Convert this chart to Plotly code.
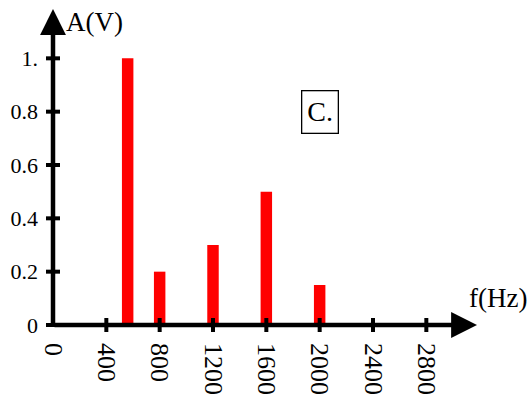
import plotly.graph_objects as go

# Spectrum lines: frequency (Hz) and amplitude (V)
freqs = [560, 800, 1200, 1600, 2000]
amps = [1.0, 0.2, 0.3, 0.5, 0.15]

x_ticks = [0, 400, 800, 1200, 1600, 2000, 2400, 2800]
y_ticks = [0, 0.2, 0.4, 0.6, 0.8, 1.0]
y_tick_text = ["0", "0.2", "0.4", "0.6", "0.8", "1."]

X_MAX = 3180
Y_MAX = 1.185
SERIF = "Liberation Serif"

fig = go.Figure()

fig.add_trace(go.Bar(
    x=freqs, y=amps, width=86,
    marker=dict(color="#ff0000", line=dict(width=0)),
    hoverinfo="x+y",
))

# Tick marks crossing the axes
fig.add_trace(go.Scatter(
    x=x_ticks[1:], y=[0] * (len(x_ticks) - 1), mode="markers",
    marker=dict(symbol="line-ns", size=10, line=dict(width=4, color="black")),
    cliponaxis=False, hoverinfo="skip",
))
fig.add_trace(go.Scatter(
    x=[0] * len(y_ticks), y=y_ticks, mode="markers",
    marker=dict(symbol="line-ew", size=10, line=dict(width=4, color="black")),
    cliponaxis=False, hoverinfo="skip",
))

# Axes drawn as arrows
for tip in [(X_MAX, 0), (0, Y_MAX)]:
    fig.add_annotation(x=tip[0], y=tip[1], ax=0, ay=0, xref="x", yref="y",
                       axref="x", ayref="y", showarrow=True, arrowhead=2,
                       arrowsize=1.15, arrowwidth=4.5, arrowcolor="black", text="")

# Axis titles
fig.add_annotation(x=0, y=Y_MAX, xref="x", yref="y", xanchor="left", yanchor="top",
                   xshift=11, yshift=4, showarrow=False, text="A(V)",
                   font=dict(family=SERIF, size=27, color="black"))
fig.add_annotation(x=X_MAX, y=0, xref="x", yref="y", xanchor="left", yanchor="bottom",
                   xshift=-10, yshift=10, showarrow=False, text="f(Hz)",
                   font=dict(family=SERIF, size=27, color="black"))

# Panel label
fig.add_annotation(x=2000, y=0.80, xref="x", yref="y", showarrow=False, text="C.",
                   font=dict(family=SERIF, size=28, color="black"),
                   bordercolor="black", borderwidth=1.3, borderpad=5, bgcolor="white")

fig.update_layout(
    width=531, height=397,
    margin=dict(l=53, r=531 - 53 - 424, t=9, b=72),
    paper_bgcolor="white", plot_bgcolor="white",
    showlegend=False,
    xaxis=dict(range=[0, X_MAX], showgrid=False, zeroline=False, showline=False,
               automargin=False,
               tickvals=x_ticks, ticktext=[str(v) for v in x_ticks],
               tickangle=90, ticks="", ticklabelstandoff=17,
               tickfont=dict(family=SERIF, size=26, color="black")),
    yaxis=dict(range=[0, Y_MAX], showgrid=False, zeroline=False, showline=False,
               automargin=False,
               tickvals=y_ticks, ticktext=y_tick_text,
               ticks="", ticklabelstandoff=14,
               tickfont=dict(family=SERIF, size=22, color="black")),
)

fig.write_html("out.html")
